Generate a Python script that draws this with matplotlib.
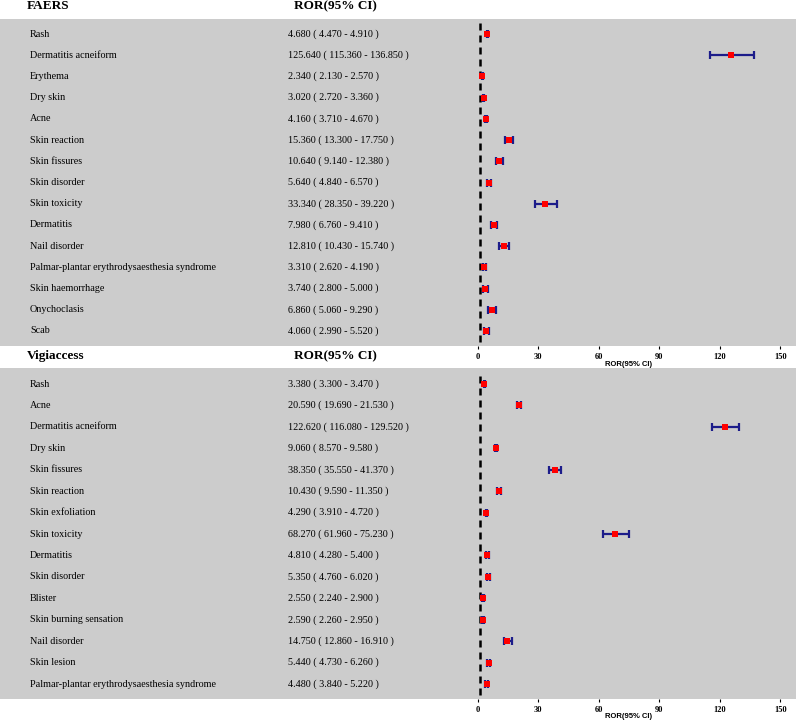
import matplotlib
matplotlib.use("Agg")
import matplotlib.pyplot as plt

# FAERS panel
faers_terms = ["Rash", "Dermatitis acneiform", "Erythema", "Dry skin", "Acne",
               "Skin reaction", "Skin fissures", "Skin disorder", "Skin toxicity",
               "Dermatitis", "Nail disorder",
               "Palmar-plantar erythrodysaesthesia syndrome", "Skin haemorrhage",
               "Onychoclasis", "Scab"]
faers_ror = [4.680, 125.640, 2.340, 3.020, 4.160, 15.360, 10.640, 5.640, 33.340,
             7.980, 12.810, 3.310, 3.740, 6.860, 4.060]
faers_lo = [4.470, 115.360, 2.130, 2.720, 3.710, 13.300, 9.140, 4.840, 28.350,
            6.760, 10.430, 2.620, 2.800, 5.060, 2.990]
faers_hi = [4.910, 136.850, 2.570, 3.360, 4.670, 17.750, 12.380, 6.570, 39.220,
            9.410, 15.740, 4.190, 5.000, 9.290, 5.520]

# Vigiaccess panel
vigi_terms = ["Rash", "Acne", "Dermatitis acneiform", "Dry skin", "Skin fissures",
              "Skin reaction", "Skin exfoliation", "Skin toxicity", "Dermatitis",
              "Skin disorder", "Blister", "Skin burning sensation", "Nail disorder",
              "Skin lesion", "Palmar-plantar erythrodysaesthesia syndrome"]
vigi_ror = [3.380, 20.590, 122.620, 9.060, 38.350, 10.430, 4.290, 68.270, 4.810,
            5.350, 2.550, 2.590, 14.750, 5.440, 4.480]
vigi_lo = [3.300, 19.690, 116.080, 8.570, 35.550, 9.590, 3.910, 61.960, 4.280,
           4.760, 2.240, 2.260, 12.860, 4.730, 3.840]
vigi_hi = [3.470, 21.530, 129.520, 9.580, 41.370, 11.350, 4.720, 75.230, 5.400,
           6.020, 2.900, 2.950, 16.910, 6.260, 5.220]

xticks = [0, 30, 60, 90, 120, 150]

W, H = 796, 723
fig = plt.figure(figsize=(W / 100, H / 100), dpi=100)

serif = "Liberation Serif"
sans = "Liberation Sans"
grey = "#cccccc"
navy = "#1c1c8a"

XMIN, XMAX = -236.8, 157.8
LABEL_X = XMIN + 30 / W * (XMAX - XMIN)
ROR_X = XMIN + 288 / W * (XMAX - XMIN)


def panel(rect, title, terms, ror, lo, hi, ylim, header_y):
    ax = fig.add_axes(rect)
    ax.set_facecolor(grey)
    for s in ax.spines.values():
        s.set_visible(False)
    n = len(terms)
    ys = [n - 1 - i for i in range(n)]
    ax.set_xlim(XMIN, XMAX)
    ax.set_ylim(*ylim)
    ax.vlines(1, -0.5, n - 0.5, colors="black", linewidth=1.8,
              linestyles=(0, (2.8, 2.0)), zorder=2)
    xerr = [[r - l for r, l in zip(ror, lo)], [h - r for r, h in zip(ror, hi)]]
    ax.errorbar(ror, ys, xerr=xerr, fmt="none", ecolor=navy, elinewidth=1.6,
                capsize=3, capthick=1.6, zorder=3)
    ax.plot(ror, ys, "s", color="red", markersize=4, markeredgewidth=0, zorder=4)
    for y, t, r, l, h in zip(ys, terms, ror, lo, hi):
        ax.text(LABEL_X, y, t, family=serif, fontsize=7.3, va="center", ha="left")
        ax.text(ROR_X, y, f"{r:.3f} ( {l:.3f} - {h:.3f} )", family=serif,
                fontsize=7.3, va="center", ha="left")
    ax.set_yticks([])
    ax.set_xticks(xticks)
    ax.set_xticklabels([str(v) for v in xticks], family=serif, fontweight="bold",
                       fontsize=6)
    ax.tick_params(axis="x", length=2, width=0.8, pad=3)
    # axis title centred under the tick range
    h_px = rect[3] * H
    ax.text(75, -18 / h_px, "ROR(95% CI)", transform=ax.get_xaxis_transform(),
            family=sans, fontweight="bold", fontsize=5.5, ha="center", va="center")
    fig.text(27 / W, 1 - header_y / H, title, family=serif, fontweight="bold",
             fontsize=9.5, va="center", ha="left")
    fig.text(294 / W, 1 - header_y / H, "ROR(95% CI)", family=serif,
             fontweight="bold", fontsize=9.5, va="center", ha="left")
    return ax


ax1 = panel([0, 1 - 346 / H, 1, 327 / H], "FAERS", faers_terms, faers_ror,
            faers_lo, faers_hi, (-0.71, 14.71), 6)
ax2 = panel([0, 1 - 699 / H, 1, 331 / H], "Vigiaccess", vigi_terms, vigi_ror,
            vigi_lo, vigi_hi, (-0.7, 14.75), 356)

fig.savefig("out.png", dpi=100)
